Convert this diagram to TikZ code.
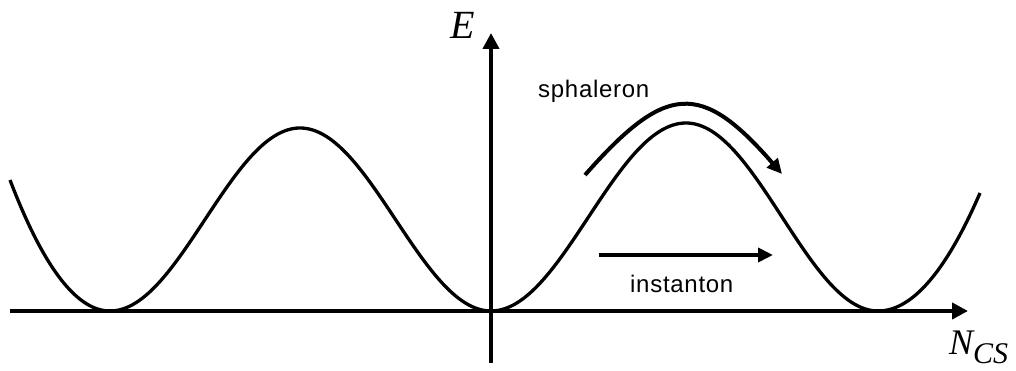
\documentclass[tikz,border=0pt]{standalone}
\usepackage{fontspec}
\setmainfont{Liberation Serif}
\newfontfamily\lblfont[LetterSpace=3]{Liberation Sans}
\usetikzlibrary{arrows.meta}
\tikzset{
  axisline/.style={line width=4pt, -{Triangle[length=16pt,width=16pt]}},
  potential/.style={line width=3.3pt, line join=round},
  motion/.style={line width=4pt, -{Triangle[length=15pt,width=14pt]}},
  lbl/.style={inner sep=0pt, anchor=base west, font=\lblfont\fontsize{24}{24}\selectfont},
  axlbl/.style={inner sep=0pt, anchor=base west},
}
\begin{document}
\begin{tikzpicture}[x=1pt,y=1pt]
\useasboundingbox (0,0) rectangle (1016,371);
% axes
\coordinate (xs) at (10,60);
\coordinate (xe) at (968,60);
\coordinate (ys) at (491,8);
\coordinate (ye) at (491,338);
\draw[axisline] (xs) -- (xe);
\draw[axisline] (ys) -- (ye);
% potential curve
\draw[potential]
  plot[domain=10:110,samples=40] (\x,{60+131*((110-\x)/100)^2})
  -- plot[domain=110:300,samples=60] (\x,{60+183*(1-cos((\x-110)/190*180))/2})
  -- plot[domain=300:491,samples=60] (\x,{60+183*(1+cos((\x-300)/191*180))/2})
  -- plot[domain=491:686,samples=60] (\x,{60+188*(1-cos((\x-491)/195*180))/2})
  -- plot[domain=686:878,samples=60] (\x,{60+188*(1+cos((\x-686)/192*180))/2})
  -- plot[domain=878:980,samples=40] (\x,{60+118*((\x-878)/102)^2});
% sphaleron arrow
\coordinate (sa) at (585,196);
\coordinate (sb) at (782,197);
\draw[motion] (sa) .. controls (666,288) and (701,290) .. (sb);
% instanton arrow
\coordinate (ia) at (599,116);
\coordinate (ib) at (773,116);
\draw[motion] (ia) -- (ib);
% labels
\node[axlbl] (E) at (450,332) {\fontsize{40}{40}\selectfont\itshape E};
\node[axlbl] (N) at (949,16) {\fontsize{36}{36}\selectfont\itshape N\raisebox{-9pt}{\fontsize{30}{30}\selectfont CS}};
\node[lbl] (sph) at (538,273) {sphaleron};
\node[lbl] (ins) at (630,78) {instanton};
\end{tikzpicture}
\end{document}
